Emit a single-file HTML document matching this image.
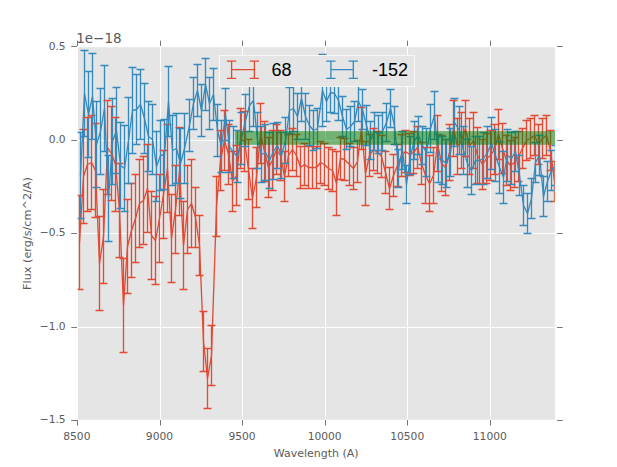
<!DOCTYPE html>
<html><head><meta charset="utf-8"><title>plot</title>
<style>html,body{margin:0;padding:0;background:#fff;overflow:hidden}svg{display:block}.t{font-family:'DejaVu Sans', sans-serif;fill:#5a5a5a}.lg{font-family:"Liberation Sans",Arial,sans-serif;font-size:18px;fill:#000}</style></head><body>
<svg width="617" height="467" viewBox="0 0 617 467">
<defs><clipPath id="ax"><rect x="77.125" y="46.7" width="478.175" height="373.6"/></clipPath></defs>
<rect x="0" y="0" width="617" height="467" fill="#ffffff"/>
<rect x="78" y="47" width="478" height="373" fill="#e5e5e5"/>
<path d="M160.5 47V420M242.5 47V420M325.5 47V420M407.5 47V420M490.5 47V420M78 140.5H556M78 233.5H556M78 327.5H556" fill="none" stroke="#ffffff" stroke-width="1"/>
<path d="M79.5 195.5V289.5M83.5 129.5V223.5M87.5 117.5V211.5M91.5 115.5V209.5M95.5 123.5V217.5M99.5 216.5V310.5M103.5 189.5V283.5M107.5 100.5V194.5M111.5 106.5V200.5M115.5 117.5V211.5M119.5 163.5V257.5M123.5 258.5V352.5M127.5 199.5V293.5M131.5 183.5V277.5M135.5 174.5V262.5M139.5 159.5V247.5M143.5 156.5V244.5M147.5 144.5V232.5M151.5 191.5V279.5M155.5 196.5V284.5M159.5 174.5V262.5M163.5 150.5V238.5M167.5 124.5V212.5M171.5 194.5V282.5M175.5 165.5V253.5M179.5 127.5V215.5M183.5 201.5V289.5M187.5 165.5V253.5M191.5 159.5V247.5M195.5 187.5V247.5M199.5 215.5V275.5M203.5 311.5V371.5M207.5 348.5V408.5M211.5 325.5V385.5M216.5 176.5V236.5M220.5 130.5V190.5M224.5 110.5V170.5M228.5 124.5V184.5M232.5 151.5V211.5M236.5 145.5V205.5M240.5 108.5V168.5M244.5 111.5V171.5M248.5 139.5V199.5M252.5 168.5V228.5M256.5 147.5V207.5M260.5 103.5V163.5M264.5 121.5V181.5M268.5 137.5V197.5M272.5 130.5V190.5M276.5 124.5V174.5M280.5 130.5V180.5M284.5 151.5V201.5M288.5 134.5V176.5M292.5 128.5V170.5M296.5 134.5V176.5M300.5 146.5V188.5M304.5 143.5V185.5M308.5 146.5V188.5M312.5 146.5V188.5M316.5 146.5V188.5M320.5 141.5V183.5M324.5 143.5V185.5M328.5 147.5V189.5M332.5 149.5V191.5M336.5 151.5V215.5M340.5 137.5V179.5M344.5 138.5V180.5M349.5 143.5V185.5M353.5 147.5V189.5M357.5 140.5V182.5M361.5 107.5V149.5M365.5 141.5V205.5M369.5 134.5V176.5M373.5 128.5V170.5M377.5 131.5V173.5M381.5 135.5V177.5M385.5 151.5V193.5M389.5 167.5V209.5M393.5 154.5V196.5M397.5 144.5V186.5M401.5 134.5V176.5M405.5 130.5V172.5M409.5 133.5V175.5M413.5 131.5V173.5M417.5 126.5V168.5M421.5 142.5V184.5M425.5 147.5V203.5M429.5 155.5V211.5M433.5 147.5V203.5M437.5 115.5V171.5M441.5 135.5V191.5M445.5 139.5V195.5M449.5 124.5V180.5M453.5 100.5V156.5M457.5 118.5V174.5M461.5 112.5V168.5M465.5 100.5V156.5M469.5 118.5V174.5M473.5 112.5V168.5M477.5 127.5V183.5M482.5 139.5V189.5M486.5 133.5V183.5M490.5 130.5V180.5M494.5 124.5V174.5M498.5 109.5V159.5M502.5 123.5V173.5M506.5 135.5V185.5M510.5 140.5V190.5M514.5 137.5V187.5M518.5 131.5V181.5M522.5 128.5V168.5M526.5 120.5V160.5M530.5 118.5V158.5M534.5 115.5V155.5M538.5 124.5V164.5M542.5 118.5V158.5M546.5 115.5V155.5M550.5 130.5V170.5M554.5 161.5V201.5" fill="none" stroke="#e24a33" stroke-width="1.33" clip-path="url(#ax)"/>
<path d="M80.5 132.5V218.5M84.5 50.5V136.5M88.5 71.5V157.5M92.5 53.5V139.5M96.5 101.5V187.5M100.5 88.5V174.5M104.5 65.5V151.5M108.5 155.5V241.5M112.5 98.5V184.5M116.5 87.5V173.5M120.5 122.5V208.5M124.5 125.5V211.5M128.5 97.5V183.5M132.5 67.5V153.5M136.5 74.5V144.5M140.5 69.5V139.5M144.5 83.5V153.5M148.5 101.5V171.5M152.5 104.5V174.5M156.5 131.5V201.5M160.5 120.5V190.5M164.5 119.5V189.5M168.5 66.5V136.5M172.5 115.5V185.5M176.5 113.5V183.5M180.5 128.5V198.5M184.5 113.5V183.5M189.5 99.5V151.5M193.5 77.5V129.5M197.5 64.5V116.5M201.5 84.5V136.5M205.5 58.5V110.5M209.5 77.5V129.5M213.5 68.5V120.5M217.5 104.5V156.5M221.5 120.5V172.5M225.5 88.5V140.5M229.5 120.5V172.5M233.5 126.5V178.5M237.5 130.5V182.5M241.5 112.5V164.5M245.5 94.5V146.5M249.5 79.5V131.5M253.5 74.5V126.5M257.5 112.5V168.5M261.5 126.5V182.5M265.5 124.5V180.5M269.5 132.5V188.5M273.5 123.5V179.5M277.5 122.5V168.5M281.5 132.5V178.5M285.5 117.5V163.5M289.5 87.5V133.5M293.5 85.5V131.5M297.5 93.5V139.5M301.5 75.5V121.5M305.5 93.5V139.5M309.5 105.5V145.5M313.5 110.5V150.5M317.5 108.5V148.5M322.5 54.5V126.5M326.5 81.5V121.5M330.5 72.5V112.5M334.5 73.5V113.5M338.5 80.5V120.5M342.5 96.5V136.5M346.5 109.5V149.5M350.5 106.5V146.5M354.5 101.5V141.5M358.5 81.5V121.5M362.5 89.5V129.5M366.5 105.5V145.5M370.5 121.5V159.5M374.5 112.5V150.5M378.5 115.5V153.5M382.5 112.5V150.5M386.5 103.5V141.5M390.5 89.5V127.5M394.5 106.5V144.5M398.5 149.5V187.5M402.5 131.5V169.5M406.5 165.5V203.5M410.5 136.5V174.5M414.5 121.5V159.5M418.5 116.5V154.5M422.5 126.5V164.5M426.5 128.5V176.5M430.5 104.5V152.5M434.5 91.5V139.5M438.5 134.5V182.5M442.5 136.5V184.5M446.5 139.5V187.5M450.5 128.5V176.5M454.5 98.5V146.5M459.5 106.5V154.5M463.5 126.5V174.5M467.5 139.5V187.5M471.5 146.5V194.5M475.5 136.5V184.5M479.5 136.5V184.5M483.5 132.5V184.5M487.5 126.5V178.5M491.5 117.5V169.5M495.5 129.5V181.5M499.5 141.5V193.5M503.5 151.5V203.5M507.5 129.5V181.5M511.5 132.5V184.5M515.5 131.5V171.5M519.5 155.5V195.5M523.5 185.5V225.5M527.5 193.5V233.5M531.5 178.5V218.5M535.5 142.5V182.5M539.5 135.5V175.5M543.5 176.5V216.5M547.5 161.5V201.5M551.5 150.5V190.5M555.5 145.5V185.5" fill="none" stroke="#348abd" stroke-width="1.33" clip-path="url(#ax)"/>
<g clip-path="url(#ax)" fill="none" stroke="#e24a33" stroke-width="1.33">
<path d="M79.5 242.5 L83.5 176.5 L87.5 164.5 L91.5 162.5 L95.5 170.5 L99.5 263.5 L103.5 236.5 L107.5 147.5 L111.5 153.5 L115.5 164.5 L119.5 210.5 L123.5 305.5 L127.5 246.5 L131.5 230.5 L135.5 218.5 L139.5 203.5 L143.5 200.5 L147.5 188.5 L151.5 235.5 L155.5 240.5 L159.5 218.5 L163.5 194.5 L167.5 168.5 L171.5 238.5 L175.5 209.5 L179.5 171.5 L183.5 245.5 L187.5 209.5 L191.5 203.5 L195.5 217.5 L199.5 245.5 L203.5 341.5 L207.5 378.5 L211.5 355.5 L216.5 206.5 L220.5 160.5 L224.5 140.5 L228.5 154.5 L232.5 181.5 L236.5 175.5 L240.5 138.5 L244.5 141.5 L248.5 169.5 L252.5 198.5 L256.5 177.5 L260.5 133.5 L264.5 151.5 L268.5 167.5 L272.5 160.5 L276.5 149.5 L280.5 155.5 L284.5 176.5 L288.5 155.5 L292.5 149.5 L296.5 155.5 L300.5 167.5 L304.5 164.5 L308.5 167.5 L312.5 167.5 L316.5 167.5 L320.5 162.5 L324.5 164.5 L328.5 168.5 L332.5 170.5 L336.5 183.5 L340.5 158.5 L344.5 159.5 L349.5 164.5 L353.5 168.5 L357.5 161.5 L361.5 128.5 L365.5 173.5 L369.5 155.5 L373.5 149.5 L377.5 152.5 L381.5 156.5 L385.5 172.5 L389.5 188.5 L393.5 175.5 L397.5 165.5 L401.5 155.5 L405.5 151.5 L409.5 154.5 L413.5 152.5 L417.5 147.5 L421.5 163.5 L425.5 175.5 L429.5 183.5 L433.5 175.5 L437.5 143.5 L441.5 163.5 L445.5 167.5 L449.5 152.5 L453.5 128.5 L457.5 146.5 L461.5 140.5 L465.5 128.5 L469.5 146.5 L473.5 140.5 L477.5 155.5 L482.5 164.5 L486.5 158.5 L490.5 155.5 L494.5 149.5 L498.5 134.5 L502.5 148.5 L506.5 160.5 L510.5 165.5 L514.5 162.5 L518.5 156.5 L522.5 148.5 L526.5 140.5 L530.5 138.5 L534.5 135.5 L538.5 144.5 L542.5 138.5 L546.5 135.5 L550.5 150.5 L554.5 181.5" stroke-linejoin="round" stroke-linecap="square"/>
<path d="M75.5 195.5h8M75.5 289.5h8M79.5 129.5h8M79.5 223.5h8M83.5 117.5h8M83.5 211.5h8M87.5 115.5h8M87.5 209.5h8M91.5 123.5h8M91.5 217.5h8M95.5 216.5h8M95.5 310.5h8M99.5 189.5h8M99.5 283.5h8M103.5 100.5h8M103.5 194.5h8M107.5 106.5h8M107.5 200.5h8M111.5 117.5h8M111.5 211.5h8M115.5 163.5h8M115.5 257.5h8M119.5 258.5h8M119.5 352.5h8M123.5 199.5h8M123.5 293.5h8M127.5 183.5h8M127.5 277.5h8M131.5 174.5h8M131.5 262.5h8M135.5 159.5h8M135.5 247.5h8M139.5 156.5h8M139.5 244.5h8M143.5 144.5h8M143.5 232.5h8M147.5 191.5h8M147.5 279.5h8M151.5 196.5h8M151.5 284.5h8M155.5 174.5h8M155.5 262.5h8M159.5 150.5h8M159.5 238.5h8M163.5 124.5h8M163.5 212.5h8M167.5 194.5h8M167.5 282.5h8M171.5 165.5h8M171.5 253.5h8M175.5 127.5h8M175.5 215.5h8M179.5 201.5h8M179.5 289.5h8M183.5 165.5h8M183.5 253.5h8M187.5 159.5h8M187.5 247.5h8M191.5 187.5h8M191.5 247.5h8M195.5 215.5h8M195.5 275.5h8M199.5 311.5h8M199.5 371.5h8M203.5 348.5h8M203.5 408.5h8M207.5 325.5h8M207.5 385.5h8M212.5 176.5h8M212.5 236.5h8M216.5 130.5h8M216.5 190.5h8M220.5 110.5h8M220.5 170.5h8M224.5 124.5h8M224.5 184.5h8M228.5 151.5h8M228.5 211.5h8M232.5 145.5h8M232.5 205.5h8M236.5 108.5h8M236.5 168.5h8M240.5 111.5h8M240.5 171.5h8M244.5 139.5h8M244.5 199.5h8M248.5 168.5h8M248.5 228.5h8M252.5 147.5h8M252.5 207.5h8M256.5 103.5h8M256.5 163.5h8M260.5 121.5h8M260.5 181.5h8M264.5 137.5h8M264.5 197.5h8M268.5 130.5h8M268.5 190.5h8M272.5 124.5h8M272.5 174.5h8M276.5 130.5h8M276.5 180.5h8M280.5 151.5h8M280.5 201.5h8M284.5 134.5h8M284.5 176.5h8M288.5 128.5h8M288.5 170.5h8M292.5 134.5h8M292.5 176.5h8M296.5 146.5h8M296.5 188.5h8M300.5 143.5h8M300.5 185.5h8M304.5 146.5h8M304.5 188.5h8M308.5 146.5h8M308.5 188.5h8M312.5 146.5h8M312.5 188.5h8M316.5 141.5h8M316.5 183.5h8M320.5 143.5h8M320.5 185.5h8M324.5 147.5h8M324.5 189.5h8M328.5 149.5h8M328.5 191.5h8M332.5 151.5h8M332.5 215.5h8M336.5 137.5h8M336.5 179.5h8M340.5 138.5h8M340.5 180.5h8M345.5 143.5h8M345.5 185.5h8M349.5 147.5h8M349.5 189.5h8M353.5 140.5h8M353.5 182.5h8M357.5 107.5h8M357.5 149.5h8M361.5 141.5h8M361.5 205.5h8M365.5 134.5h8M365.5 176.5h8M369.5 128.5h8M369.5 170.5h8M373.5 131.5h8M373.5 173.5h8M377.5 135.5h8M377.5 177.5h8M381.5 151.5h8M381.5 193.5h8M385.5 167.5h8M385.5 209.5h8M389.5 154.5h8M389.5 196.5h8M393.5 144.5h8M393.5 186.5h8M397.5 134.5h8M397.5 176.5h8M401.5 130.5h8M401.5 172.5h8M405.5 133.5h8M405.5 175.5h8M409.5 131.5h8M409.5 173.5h8M413.5 126.5h8M413.5 168.5h8M417.5 142.5h8M417.5 184.5h8M421.5 147.5h8M421.5 203.5h8M425.5 155.5h8M425.5 211.5h8M429.5 147.5h8M429.5 203.5h8M433.5 115.5h8M433.5 171.5h8M437.5 135.5h8M437.5 191.5h8M441.5 139.5h8M441.5 195.5h8M445.5 124.5h8M445.5 180.5h8M449.5 100.5h8M449.5 156.5h8M453.5 118.5h8M453.5 174.5h8M457.5 112.5h8M457.5 168.5h8M461.5 100.5h8M461.5 156.5h8M465.5 118.5h8M465.5 174.5h8M469.5 112.5h8M469.5 168.5h8M473.5 127.5h8M473.5 183.5h8M478.5 139.5h8M478.5 189.5h8M482.5 133.5h8M482.5 183.5h8M486.5 130.5h8M486.5 180.5h8M490.5 124.5h8M490.5 174.5h8M494.5 109.5h8M494.5 159.5h8M498.5 123.5h8M498.5 173.5h8M502.5 135.5h8M502.5 185.5h8M506.5 140.5h8M506.5 190.5h8M510.5 137.5h8M510.5 187.5h8M514.5 131.5h8M514.5 181.5h8M518.5 128.5h8M518.5 168.5h8M522.5 120.5h8M522.5 160.5h8M526.5 118.5h8M526.5 158.5h8M530.5 115.5h8M530.5 155.5h8M534.5 124.5h8M534.5 164.5h8M538.5 118.5h8M538.5 158.5h8M542.5 115.5h8M542.5 155.5h8M546.5 130.5h8M546.5 170.5h8M550.5 161.5h8M550.5 201.5h8"/>
</g>
<g clip-path="url(#ax)" fill="none" stroke="#348abd" stroke-width="1.33">
<path d="M80.5 175.5 L84.5 93.5 L88.5 114.5 L92.5 96.5 L96.5 144.5 L100.5 131.5 L104.5 108.5 L108.5 198.5 L112.5 141.5 L116.5 130.5 L120.5 165.5 L124.5 168.5 L128.5 140.5 L132.5 110.5 L136.5 109.5 L140.5 104.5 L144.5 118.5 L148.5 136.5 L152.5 139.5 L156.5 166.5 L160.5 155.5 L164.5 154.5 L168.5 101.5 L172.5 150.5 L176.5 148.5 L180.5 163.5 L184.5 148.5 L189.5 125.5 L193.5 103.5 L197.5 90.5 L201.5 110.5 L205.5 84.5 L209.5 103.5 L213.5 94.5 L217.5 130.5 L221.5 146.5 L225.5 114.5 L229.5 146.5 L233.5 152.5 L237.5 156.5 L241.5 138.5 L245.5 120.5 L249.5 105.5 L253.5 100.5 L257.5 140.5 L261.5 154.5 L265.5 152.5 L269.5 160.5 L273.5 151.5 L277.5 145.5 L281.5 155.5 L285.5 140.5 L289.5 110.5 L293.5 108.5 L297.5 116.5 L301.5 98.5 L305.5 116.5 L309.5 125.5 L313.5 130.5 L317.5 128.5 L322.5 90.5 L326.5 101.5 L330.5 92.5 L334.5 93.5 L338.5 100.5 L342.5 116.5 L346.5 129.5 L350.5 126.5 L354.5 121.5 L358.5 101.5 L362.5 109.5 L366.5 125.5 L370.5 140.5 L374.5 131.5 L378.5 134.5 L382.5 131.5 L386.5 122.5 L390.5 108.5 L394.5 125.5 L398.5 168.5 L402.5 150.5 L406.5 184.5 L410.5 155.5 L414.5 140.5 L418.5 135.5 L422.5 145.5 L426.5 152.5 L430.5 128.5 L434.5 115.5 L438.5 158.5 L442.5 160.5 L446.5 163.5 L450.5 152.5 L454.5 122.5 L459.5 130.5 L463.5 150.5 L467.5 163.5 L471.5 170.5 L475.5 160.5 L479.5 160.5 L483.5 158.5 L487.5 152.5 L491.5 143.5 L495.5 155.5 L499.5 167.5 L503.5 177.5 L507.5 155.5 L511.5 158.5 L515.5 151.5 L519.5 175.5 L523.5 205.5 L527.5 213.5 L531.5 198.5 L535.5 162.5 L539.5 155.5 L543.5 196.5 L547.5 181.5 L551.5 170.5 L555.5 165.5" stroke-linejoin="round" stroke-linecap="square"/>
<path d="M76.5 132.5h8M76.5 218.5h8M80.5 50.5h8M80.5 136.5h8M84.5 71.5h8M84.5 157.5h8M88.5 53.5h8M88.5 139.5h8M92.5 101.5h8M92.5 187.5h8M96.5 88.5h8M96.5 174.5h8M100.5 65.5h8M100.5 151.5h8M104.5 155.5h8M104.5 241.5h8M108.5 98.5h8M108.5 184.5h8M112.5 87.5h8M112.5 173.5h8M116.5 122.5h8M116.5 208.5h8M120.5 125.5h8M120.5 211.5h8M124.5 97.5h8M124.5 183.5h8M128.5 67.5h8M128.5 153.5h8M132.5 74.5h8M132.5 144.5h8M136.5 69.5h8M136.5 139.5h8M140.5 83.5h8M140.5 153.5h8M144.5 101.5h8M144.5 171.5h8M148.5 104.5h8M148.5 174.5h8M152.5 131.5h8M152.5 201.5h8M156.5 120.5h8M156.5 190.5h8M160.5 119.5h8M160.5 189.5h8M164.5 66.5h8M164.5 136.5h8M168.5 115.5h8M168.5 185.5h8M172.5 113.5h8M172.5 183.5h8M176.5 128.5h8M176.5 198.5h8M180.5 113.5h8M180.5 183.5h8M185.5 99.5h8M185.5 151.5h8M189.5 77.5h8M189.5 129.5h8M193.5 64.5h8M193.5 116.5h8M197.5 84.5h8M197.5 136.5h8M201.5 58.5h8M201.5 110.5h8M205.5 77.5h8M205.5 129.5h8M209.5 68.5h8M209.5 120.5h8M213.5 104.5h8M213.5 156.5h8M217.5 120.5h8M217.5 172.5h8M221.5 88.5h8M221.5 140.5h8M225.5 120.5h8M225.5 172.5h8M229.5 126.5h8M229.5 178.5h8M233.5 130.5h8M233.5 182.5h8M237.5 112.5h8M237.5 164.5h8M241.5 94.5h8M241.5 146.5h8M245.5 79.5h8M245.5 131.5h8M249.5 74.5h8M249.5 126.5h8M253.5 112.5h8M253.5 168.5h8M257.5 126.5h8M257.5 182.5h8M261.5 124.5h8M261.5 180.5h8M265.5 132.5h8M265.5 188.5h8M269.5 123.5h8M269.5 179.5h8M273.5 122.5h8M273.5 168.5h8M277.5 132.5h8M277.5 178.5h8M281.5 117.5h8M281.5 163.5h8M285.5 87.5h8M285.5 133.5h8M289.5 85.5h8M289.5 131.5h8M293.5 93.5h8M293.5 139.5h8M297.5 75.5h8M297.5 121.5h8M301.5 93.5h8M301.5 139.5h8M305.5 105.5h8M305.5 145.5h8M309.5 110.5h8M309.5 150.5h8M313.5 108.5h8M313.5 148.5h8M318.5 54.5h8M318.5 126.5h8M322.5 81.5h8M322.5 121.5h8M326.5 72.5h8M326.5 112.5h8M330.5 73.5h8M330.5 113.5h8M334.5 80.5h8M334.5 120.5h8M338.5 96.5h8M338.5 136.5h8M342.5 109.5h8M342.5 149.5h8M346.5 106.5h8M346.5 146.5h8M350.5 101.5h8M350.5 141.5h8M354.5 81.5h8M354.5 121.5h8M358.5 89.5h8M358.5 129.5h8M362.5 105.5h8M362.5 145.5h8M366.5 121.5h8M366.5 159.5h8M370.5 112.5h8M370.5 150.5h8M374.5 115.5h8M374.5 153.5h8M378.5 112.5h8M378.5 150.5h8M382.5 103.5h8M382.5 141.5h8M386.5 89.5h8M386.5 127.5h8M390.5 106.5h8M390.5 144.5h8M394.5 149.5h8M394.5 187.5h8M398.5 131.5h8M398.5 169.5h8M402.5 165.5h8M402.5 203.5h8M406.5 136.5h8M406.5 174.5h8M410.5 121.5h8M410.5 159.5h8M414.5 116.5h8M414.5 154.5h8M418.5 126.5h8M418.5 164.5h8M422.5 128.5h8M422.5 176.5h8M426.5 104.5h8M426.5 152.5h8M430.5 91.5h8M430.5 139.5h8M434.5 134.5h8M434.5 182.5h8M438.5 136.5h8M438.5 184.5h8M442.5 139.5h8M442.5 187.5h8M446.5 128.5h8M446.5 176.5h8M450.5 98.5h8M450.5 146.5h8M455.5 106.5h8M455.5 154.5h8M459.5 126.5h8M459.5 174.5h8M463.5 139.5h8M463.5 187.5h8M467.5 146.5h8M467.5 194.5h8M471.5 136.5h8M471.5 184.5h8M475.5 136.5h8M475.5 184.5h8M479.5 132.5h8M479.5 184.5h8M483.5 126.5h8M483.5 178.5h8M487.5 117.5h8M487.5 169.5h8M491.5 129.5h8M491.5 181.5h8M495.5 141.5h8M495.5 193.5h8M499.5 151.5h8M499.5 203.5h8M503.5 129.5h8M503.5 181.5h8M507.5 132.5h8M507.5 184.5h8M511.5 131.5h8M511.5 171.5h8M515.5 155.5h8M515.5 195.5h8M519.5 185.5h8M519.5 225.5h8M523.5 193.5h8M523.5 233.5h8M527.5 178.5h8M527.5 218.5h8M531.5 142.5h8M531.5 182.5h8M535.5 135.5h8M535.5 175.5h8M539.5 176.5h8M539.5 216.5h8M543.5 161.5h8M543.5 201.5h8M547.5 150.5h8M547.5 190.5h8M551.5 145.5h8M551.5 185.5h8"/>
</g>
<path d="M77.125 420.3V46.7M555.3 420.3V46.7M77.125 420.3H555.3M77.125 46.7H555.3" fill="none" stroke="#ffffff" stroke-width="1" stroke-linecap="square"/>
<rect x="235" y="131.13" width="320.3" height="13.64" fill="#008000" opacity="0.5" clip-path="url(#ax)"/>
<path d="M77.5 420V425.6M77.5 40.6V46M160.5 420V425.6M160.5 40.6V46M242.5 420V425.6M242.5 40.6V46M325.5 420V425.6M325.5 40.6V46M407.5 420V425.6M407.5 40.6V46M490.5 420V425.6M490.5 40.6V46M71.3 46.5H77M557 46.5H562.7M71.3 140.5H77M557 140.5H562.7M71.3 233.5H77M557 233.5H562.7M71.3 327.5H77M557 327.5H562.7M71.3 420.5H77M557 420.5H562.7" fill="none" stroke="#555555" stroke-width="0.8"/>
<text class="t" x="76.87" y="439.93" font-size="10.7" text-anchor="middle">8500</text>
<text class="t" x="159.46" y="439.93" font-size="10.7" text-anchor="middle">9000</text>
<text class="t" x="242.04" y="439.93" font-size="10.7" text-anchor="middle">9500</text>
<text class="t" x="324.63" y="439.93" font-size="10.7" text-anchor="middle">10000</text>
<text class="t" x="407.21" y="439.93" font-size="10.7" text-anchor="middle">10500</text>
<text class="t" x="489.8" y="439.93" font-size="10.7" text-anchor="middle">11000</text>
<text class="t" x="65.625" y="423.25" font-size="10.7" text-anchor="end">−1.5</text>
<text class="t" x="65.625" y="329.85" font-size="10.7" text-anchor="end">−1.0</text>
<text class="t" x="65.625" y="236.45" font-size="10.7" text-anchor="end">−0.5</text>
<text class="t" x="65.625" y="143.05" font-size="10.7" text-anchor="end">0.0</text>
<text class="t" x="65.625" y="49.65" font-size="10.7" text-anchor="end">0.5</text>
<text class="t" x="316.21" y="456.51" font-size="11" text-anchor="middle">Wavelength (A)</text>
<text class="t" x="31.3" y="233.5" font-size="11.25" text-anchor="middle" transform="rotate(-90 31.3 233.5)">Flux (erg/s/cm^2/A)</text>
<text class="t" x="76.2" y="43.3" font-size="13.5">1e−18</text>
<rect x="219.5" y="55.5" width="195" height="31" fill="#e5e5e5" stroke="#f8f8f8" stroke-width="1"/>
<path d="M231.6 69.7H254.4M231.6 61.1V78.3M227.6 61.1h8M227.6 78.3h8M254.4 61.1V78.3M250.4 61.1h8M250.4 78.3h8" fill="none" stroke="#e24a33" stroke-width="1.33" stroke-linecap="square"/>
<path d="M330.9 69.7H353.3M330.9 61.1V78.3M326.9 61.1h8M326.9 78.3h8M353.3 61.1V78.3M349.3 61.1h8M349.3 78.3h8" fill="none" stroke="#348abd" stroke-width="1.33" stroke-linecap="square"/>
<text class="lg" x="271.6" y="75.5">68</text>
<text class="lg" x="371.9" y="75.6">-152</text>
</svg>
</body></html>
